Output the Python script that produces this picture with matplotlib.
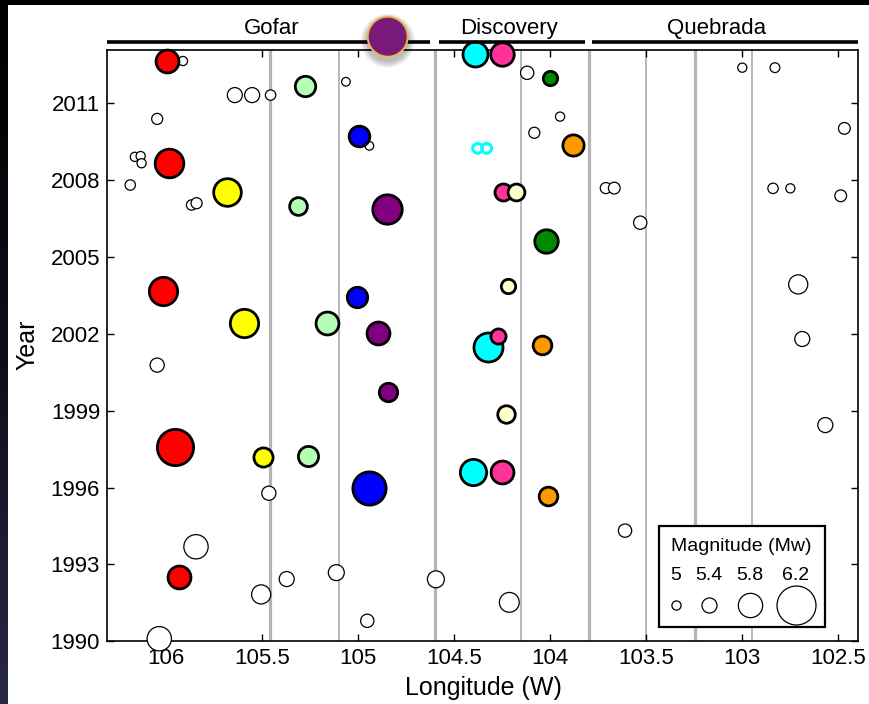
import numpy as np
import matplotlib
matplotlib.use("Agg")
import matplotlib.pyplot as plt
from matplotlib.patches import Ellipse, Rectangle
from matplotlib.transforms import blended_transform_factory
from matplotlib.colors import LinearSegmentedColormap

plt.rcParams['font.family'] = ['Liberation Sans', 'DejaVu Sans']

# ---------------- data ----------------
# background (white) events: longitude (W), year, magnitude
white_lon = [105.91, 105.64, 105.55, 105.454, 105.062, 106.044, 104.94,
             106.16, 106.13, 106.125, 106.184, 105.865, 105.839, 106.044,
             105.463, 105.842, 105.37, 105.112, 105.503, 104.951, 106.033,
             104.594, 103.61, 104.212, 104.119, 103.948, 104.082, 103.0,
             102.83, 102.469, 103.71, 103.666, 102.84, 102.75, 102.488,
             103.531, 102.709, 102.688, 102.568]
white_year = [2012.65, 2011.32, 2011.32, 2011.32, 2011.84, 2010.39, 2009.34,
              2008.91, 2008.94, 2008.66, 2007.81, 2007.03, 2007.10, 2000.78,
              1995.78, 1993.69, 1992.43, 1992.68, 1991.83, 1990.8, 1990.1,
              1992.42, 1994.32, 1991.52, 2012.19, 2010.48, 2009.85, 2012.39,
              2012.39, 2010.02, 2007.69, 2007.69, 2007.68, 2007.68, 2007.39,
              2006.34, 2003.93, 2001.8, 1998.44]
white_mag = [5.0, 5.4, 5.4, 5.1, 4.95, 5.15, 4.95,
             5.0, 5.0, 5.0, 5.1, 5.1, 5.15, 5.35,
             5.35, 5.8, 5.4, 5.45, 5.6, 5.3, 5.8,
             5.5, 5.3, 5.63, 5.3, 5.0, 5.15, 5.0,
             5.05, 5.2, 5.15, 5.2, 5.1, 5.0, 5.2,
             5.3, 5.6, 5.4, 5.4]

# repeating-rupture groups
red_lon = [105.995, 105.983, 106.014, 105.953, 105.932]
red_year = [2012.65, 2008.68, 2003.67, 1997.6, 1992.52]
red_mag = [5.8, 5.98, 5.97, 6.17, 5.8]

yellow_lon = [105.683, 105.593, 105.492]
yellow_year = [2007.55, 2002.44, 1997.2]
yellow_mag = [5.95, 5.97, 5.66]

lgreen_lon = [105.275, 105.313, 105.162, 105.26]
lgreen_year = [2011.67, 2007.0, 2002.44, 1997.23]
lgreen_mag = [5.71, 5.6, 5.8, 5.7]

blue_lon = [104.993, 105.003, 104.942]
blue_year = [2009.73, 2003.43, 1995.97]
blue_mag = [5.72, 5.71, 6.1]

purple_lon = [104.85, 104.894, 104.843]
purple_year = [2006.86, 2002.05, 1999.72]
purple_mag = [6.0, 5.8, 5.63]

cyan_lon = [104.391, 104.322, 104.401]
cyan_year = [2012.91, 2001.48, 1996.62]
cyan_mag = [5.87, 5.99, 5.91]

cyanring_lon = [104.377, 104.33]
cyanring_year = [2009.24, 2009.24]
cyanring_mag = [5.2, 5.2]

pink_lon = [104.252, 104.243, 104.27, 104.252]
pink_year = [2012.91, 2007.53, 2001.9, 1996.62]
pink_mag = [5.82, 5.57, 5.48, 5.8]

green_lon = [104.0, 104.021]
green_year = [2012.0, 2005.61]
green_mag = [5.44, 5.82]

cream_lon = [104.179, 104.221, 104.229]
cream_year = [2007.53, 2003.87, 1998.86]
cream_mag = [5.56, 5.44, 5.59]

orange_lon = [103.879, 104.041, 104.012]
orange_year = [2009.37, 2001.57, 1995.68]
orange_mag = [5.74, 5.64, 5.64]

# segment boundaries (longitude W)
thick_lines = [105.456, 104.6, 103.8, 103.246]
thin_lines = [105.1, 104.15, 103.5, 102.95]

segment_names = ["Gofar", "Discovery", "Quebrada"]
segment_start = [106.305, 104.578, 103.782]
segment_end = [104.625, 103.818, 102.398]
segment_label_lon = [105.449, 104.214, 103.132]

xticks = [106, 105.5, 105, 104.5, 104, 103.5, 103, 102.5]
xticklabels = ["106", "105.5", "105", "104.5", "104", "103.5", "103", "102.5"]
yticks = [1990, 1993, 1996, 1999, 2002, 2005, 2008, 2011]
yticklabels = ["1990", "1993", "1996", "1999", "2002", "2005", "2008", "2011"]

legend_mags = [5, 5.4, 5.8, 6.2]
legend_labels = ["5", "5.4", "5.8", "6.2"]

# ---------------- figure ----------------
W, H = 869, 704
fig = plt.figure(figsize=(W / 100, H / 100), dpi=100, facecolor='white')

ax_l, ax_r, ax_t, ax_b = 107, 858, 50, 641.3
ax = fig.add_axes([ax_l / W, 1 - ax_b / H, (ax_r - ax_l) / W, (ax_b - ax_t) / H])
ax.set_xlim(106.305, 102.398)
ax.set_ylim(1990, 2013.08)


def sizes(mags, lw_pt):
    d_px = 10 * 10 ** ((np.asarray(mags) - 5) / 2.0)
    d_pt = np.maximum(d_px * 0.72 - lw_pt, 1)
    return d_pt ** 2


for xl in thick_lines:
    ax.axvline(xl, color='#b4b4b4', lw=2.3, zorder=1)
for xl in thin_lines:
    ax.axvline(xl, color='#b8b8b8', lw=1.4, zorder=1)

ax.scatter(white_lon, white_year, s=sizes(white_mag, 0.6), facecolor='white',
           edgecolor='black', linewidths=0.9, zorder=3, clip_on=False)

groups = [
    (red_lon, red_year, red_mag, '#ff0000'),
    (yellow_lon, yellow_year, yellow_mag, '#ffff00'),
    (lgreen_lon, lgreen_year, lgreen_mag, '#b3ffb3'),
    (blue_lon, blue_year, blue_mag, '#0000ff'),
    (purple_lon, purple_year, purple_mag, '#800080'),
    (cyan_lon, cyan_year, cyan_mag, '#00ffff'),
    (pink_lon, pink_year, pink_mag, '#ff3399'),
    (green_lon, green_year, green_mag, '#008800'),
    (cream_lon, cream_year, cream_mag, '#ffffcc'),
    (orange_lon, orange_year, orange_mag, '#ff9900'),
]
z = 4
for lo, yr, mg, col in groups:
    for xx, yy, mm in zip(lo, yr, mg):
        ax.scatter([xx], [yy], s=sizes([mm], 1.6), facecolor=col,
                   edgecolor='black', linewidths=2.0, zorder=z, clip_on=False)
        z += 0.01

ax.scatter(cyanring_lon, cyanring_year, s=sizes(cyanring_mag, 2.0),
           facecolor='none', edgecolor='#00ffff', linewidths=2.2, zorder=4)

# axes styling
ax.set_xticks(xticks)
ax.set_xticklabels(xticklabels)
ax.set_yticks(yticks)
ax.set_yticklabels(yticklabels)
ax.tick_params(direction='in', length=5, width=1, top=True, right=True,
               labelsize=16, pad=5, color='black')
for sp in ax.spines.values():
    sp.set_linewidth(1.2)
    sp.set_color('black')

ax.set_xlabel("Longitude (W)", fontsize=18)
ax.set_ylabel("Year", fontsize=18)
ax.xaxis.label.set_va('center')
ax.yaxis.label.set_va('center')
ax.yaxis.label.set_ha('center')
ax.xaxis.set_label_coords((483 - ax_l) / (ax_r - ax_l), (ax_b - 688) / (ax_b - ax_t))
ax.yaxis.set_label_coords((27 - ax_l) / (ax_r - ax_l), (ax_b - 345) / (ax_b - ax_t))

# segment bars on top
trans = blended_transform_factory(ax.transData, ax.transAxes)
ybar = (ax_b - 42) / (ax_b - ax_t)
ylab = (ax_b - 29) / (ax_b - ax_t)
for name, s0, s1, lx in zip(segment_names, segment_start, segment_end, segment_label_lon):
    ax.plot([s0, s1], [ybar, ybar], color='black', lw=2.6, transform=trans,
            clip_on=False, solid_capstyle='butt', zorder=5)
    ax.text(lx, ylab, name, transform=trans, ha='center', va='center',
            fontsize=16, clip_on=False)


# magnitude legend box (axes coordinates)
def axx(px):
    return (px - ax_l) / (ax_r - ax_l)


def axy(py):
    return (ax_b - py) / (ax_b - ax_t)


ax.add_patch(Rectangle((axx(659), axy(627.3)), axx(825) - axx(659), axy(525.7) - axy(627.3),
                       transform=ax.transAxes, facecolor='white', edgecolor='black',
                       lw=1.6, zorder=10))
ax.text(axx(741.7), axy(546.7), "Magnitude (Mw)", transform=ax.transAxes,
        ha='center', va='center', fontsize=14, zorder=11)
leg_x = [675.5, 709, 750, 796]
for lx, lm, lt in zip(leg_x, legend_mags, legend_labels):
    ax.text(axx(lx), axy(576), lt, transform=ax.transAxes, ha='center',
            va='center', fontsize=14, zorder=11)
    ax.scatter([axx(lx)], [axy(604.7)], s=sizes([lm], 0.6), facecolor='white',
               edgecolor='black', linewidths=0.9, transform=ax.transAxes,
               zorder=11, clip_on=False)

# dark frame
fig.patches.append(Rectangle((0, 1 - 5 / H), 1, 5 / H, transform=fig.transFigure,
                             facecolor='black', edgecolor='none', zorder=-5))
gax = fig.add_axes([0, 0, 8 / W, 1 - 5 / H])
grad = np.linspace(0, 1, 256)[:, None]
cm = LinearSegmentedColormap.from_list('bg', ['#000000', '#0d0d18', '#282848'])
gax.imshow(grad, aspect='auto', cmap=cm, extent=[0, 1, 0, 1], origin='upper')
gax.axis('off')

# decorative purple bullet with shadow
cx, cy, r = 387.7, 704 - 36.7, 20
for k in range(8, 0, -1):
    rr = r + k * 0.9
    fig.patches.append(Ellipse((cx / W, (cy - 4) / H), 2 * rr / W, 2 * rr / H,
                               transform=fig.transFigure, facecolor='#000000',
                               alpha=0.035, edgecolor='none', zorder=20))
fig.patches.append(Ellipse((cx / W, cy / H), 2 * r / W, 2 * r / H,
                           transform=fig.transFigure, facecolor='#7a1a78',
                           edgecolor='#e8b850', lw=1.4, zorder=21))

fig.savefig("out.png", dpi=100, facecolor=fig.get_facecolor())
